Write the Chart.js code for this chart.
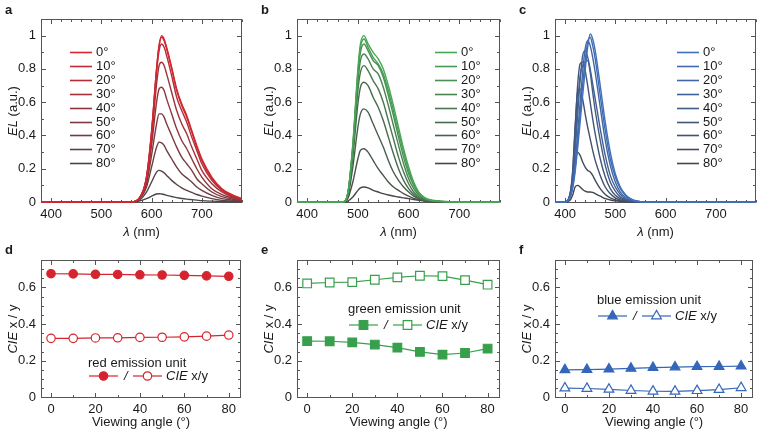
<!DOCTYPE html>
<html><head><meta charset="utf-8">
<script src="https://cdn.jsdelivr.net/npm/chart.js@4.4.1/dist/chart.umd.min.js"></script>
<style>
html,body{margin:0;padding:0;background:#fff;}
#wrap{position:relative;width:760px;height:433px;overflow:hidden;background:#fff;}
canvas{position:absolute;left:0;top:0;}
</style></head><body><div id="wrap">
<canvas id="ca" width="760" height="433"></canvas>
<canvas id="cb" width="760" height="433"></canvas>
<canvas id="cc" width="760" height="433"></canvas>
<canvas id="cd" width="760" height="433"></canvas>
<canvas id="ce" width="760" height="433"></canvas>
<canvas id="cf" width="760" height="433"></canvas>
</div>
<script>
// ---------------- DATA ----------------
const angleLabels = ['0°','10°','20°','30°','40°','50°','60°','70°','80°'];
const spectrumTicksX = [400,500,600,700];
const spectrumTicksY = [0,0.2,0.4,0.6,0.8,1];
const cieTicksX = [0,20,40,60,80];
const cieTicksY = [0,0.2,0.4,0.6];

// red emission unit: EL spectra, one row per viewing angle (0°..80°)
const redWavelength = [380,560,575,590,600,610,615,620,625,630,640,650,660,670,680,690,700,720,740,760,780];
const redSpectra = [
  [0,0,0.02,0.15,0.42,0.80,0.94,1.00,0.98,0.93,0.81,0.68,0.59,0.52,0.43,0.34,0.26,0.15,0.08,0.045,0.02],
  [0,0,0.02,0.15,0.42,0.80,0.94,0.99,0.97,0.92,0.80,0.67,0.58,0.51,0.42,0.33,0.25,0.14,0.075,0.04,0.02],
  [0,0,0.02,0.15,0.41,0.78,0.91,0.95,0.93,0.88,0.76,0.63,0.55,0.48,0.39,0.31,0.23,0.13,0.07,0.035,0.018],
  [0,0,0.02,0.14,0.38,0.71,0.82,0.84,0.82,0.77,0.66,0.55,0.47,0.41,0.33,0.26,0.19,0.11,0.06,0.03,0.015],
  [0,0,0.02,0.13,0.34,0.60,0.68,0.69,0.67,0.62,0.53,0.44,0.37,0.32,0.26,0.20,0.15,0.08,0.045,0.025,0.012],
  [0,0,0.02,0.11,0.28,0.47,0.53,0.53,0.51,0.47,0.40,0.33,0.27,0.23,0.19,0.14,0.11,0.06,0.032,0.018,0.01],
  [0,0,0.015,0.09,0.21,0.33,0.36,0.355,0.34,0.31,0.26,0.21,0.17,0.145,0.12,0.09,0.07,0.04,0.02,0.012,0.006],
  [0,0,0.01,0.06,0.12,0.18,0.19,0.185,0.175,0.16,0.13,0.105,0.085,0.07,0.058,0.045,0.035,0.02,0.01,0.006,0.003],
  [0,0,0.005,0.02,0.035,0.048,0.05,0.048,0.045,0.04,0.033,0.026,0.021,0.017,0.014,0.011,0.008,0.005,0.003,0.002,0.001]
];

// green emission unit
const greenWavelength = [380,470,480,490,500,505,512,520,530,540,550,560,570,580,590,600,610,620,630,640,660,700,780];
const greenSpectra = [
  [0,0,0.05,0.35,0.80,0.95,1.00,0.95,0.90,0.86,0.80,0.70,0.58,0.45,0.32,0.21,0.12,0.06,0.03,0.015,0.005,0,0],
  [0,0,0.05,0.34,0.78,0.93,0.98,0.93,0.87,0.83,0.77,0.67,0.55,0.42,0.30,0.19,0.11,0.055,0.028,0.013,0.005,0,0],
  [0,0,0.05,0.33,0.76,0.90,0.95,0.91,0.85,0.82,0.75,0.64,0.52,0.39,0.27,0.17,0.10,0.05,0.025,0.012,0.004,0,0],
  [0,0,0.05,0.32,0.72,0.85,0.89,0.86,0.80,0.77,0.69,0.58,0.46,0.34,0.23,0.14,0.08,0.04,0.02,0.01,0.004,0,0],
  [0,0,0.045,0.30,0.67,0.78,0.82,0.79,0.73,0.68,0.60,0.49,0.38,0.27,0.18,0.11,0.06,0.03,0.016,0.008,0.003,0,0],
  [0,0,0.04,0.27,0.59,0.69,0.72,0.70,0.63,0.57,0.49,0.39,0.29,0.20,0.13,0.08,0.045,0.024,0.012,0.006,0.002,0,0],
  [0,0,0.03,0.21,0.45,0.53,0.56,0.54,0.47,0.40,0.33,0.25,0.18,0.13,0.09,0.06,0.035,0.02,0.01,0.005,0.002,0,0],
  [0,0,0.02,0.12,0.26,0.31,0.32,0.30,0.25,0.20,0.16,0.12,0.09,0.07,0.05,0.035,0.022,0.014,0.008,0.004,0.002,0,0],
  [0,0,0.005,0.03,0.07,0.085,0.09,0.085,0.07,0.06,0.05,0.042,0.036,0.03,0.025,0.02,0.015,0.01,0.006,0.003,0.001,0,0]
];

// blue emission unit
const blueWavelength = [380,400,410,415,420,425,430,435,440,445,450,455,460,470,480,490,500,510,520,530,540,560,780];
const blueSpectra = [
  [0,0,0.03,0.08,0.18,0.32,0.48,0.64,0.79,0.93,1.01,0.98,0.91,0.70,0.48,0.30,0.17,0.09,0.045,0.02,0.008,0,0],
  [0,0,0.03,0.09,0.20,0.36,0.53,0.70,0.85,0.96,0.99,0.94,0.86,0.64,0.43,0.26,0.15,0.08,0.04,0.017,0.007,0,0],
  [0,0,0.035,0.10,0.23,0.41,0.60,0.78,0.92,0.97,0.94,0.87,0.78,0.57,0.37,0.22,0.12,0.06,0.03,0.013,0.005,0,0],
  [0,0,0.04,0.12,0.30,0.52,0.73,0.88,0.91,0.87,0.80,0.71,0.62,0.44,0.28,0.16,0.09,0.045,0.02,0.01,0.004,0,0],
  [0,0,0.045,0.14,0.35,0.58,0.76,0.82,0.84,0.85,0.78,0.66,0.55,0.37,0.22,0.12,0.065,0.03,0.015,0.007,0.003,0,0],
  [0,0,0.05,0.17,0.43,0.70,0.83,0.84,0.79,0.70,0.60,0.50,0.41,0.26,0.15,0.08,0.04,0.02,0.01,0.005,0.002,0,0],
  [0,0,0.05,0.18,0.45,0.66,0.68,0.62,0.53,0.45,0.38,0.31,0.25,0.16,0.09,0.05,0.025,0.012,0.006,0.003,0.001,0,0],
  [0,0,0.03,0.10,0.24,0.30,0.28,0.24,0.21,0.19,0.18,0.16,0.13,0.08,0.045,0.025,0.013,0.007,0.003,0.001,0,0,0],
  [0,0,0.01,0.04,0.09,0.10,0.09,0.075,0.065,0.06,0.06,0.058,0.05,0.035,0.02,0.012,0.007,0.004,0.002,0.001,0,0,0]
];

// CIE coordinates vs viewing angle
const viewingAngles = [0,10,20,30,40,50,60,70,80];
const redCIEx   = [0.675,0.674,0.672,0.671,0.669,0.668,0.666,0.663,0.661];
const redCIEy   = [0.322,0.322,0.324,0.325,0.327,0.328,0.330,0.334,0.340];
const greenCIEx = [0.307,0.306,0.300,0.288,0.271,0.248,0.233,0.242,0.266];
const greenCIEy = [0.622,0.627,0.629,0.642,0.655,0.664,0.662,0.640,0.615];
const blueCIEx  = [0.150,0.151,0.154,0.158,0.162,0.165,0.167,0.168,0.170];
const blueCIEy  = [0.050,0.048,0.043,0.037,0.033,0.032,0.036,0.042,0.052];

// ---------------- STYLE / HELPERS ----------------
const FONT = '"Liberation Sans", Arial, Helvetica, sans-serif';
const FS = 13;
const TXT = '#1a1a1a';
const AX = '#555';
const YW = 30, XH = 22;

function mix(c1, c2, t) {
  return 'rgb(' + c1.map((v, i) => Math.round(v + (c2[i] - v) * t)).join(',') + ')';
}
function drawRuns(ctx, runs, x, y, align) {
  ctx.textBaseline = 'middle';
  ctx.textAlign = 'left';
  let w = 0;
  runs.forEach(r => { ctx.font = (r.b ? 'bold ' : '') + (r.i ? 'italic ' : '') + (r.s || FS) + 'px ' + FONT; r.w = ctx.measureText(r.t).width; w += r.w; });
  let cx = align === 'center' ? x - w / 2 : (align === 'right' ? x - w : x);
  runs.forEach(r => { ctx.font = (r.b ? 'bold ' : '') + (r.i ? 'italic ' : '') + (r.s || FS) + 'px ' + FONT; ctx.fillStyle = TXT; ctx.fillText(r.t, cx, y); cx += r.w; });
  return w;
}
function marker(ctx, style, x, y, color, filled) {
  ctx.save();
  ctx.lineWidth = 1.2; ctx.strokeStyle = color; ctx.fillStyle = filled ? color : '#fff';
  ctx.beginPath();
  if (style === 'circle') ctx.arc(x, y, 4.2, 0, Math.PI * 2);
  else if (style === 'rect') ctx.rect(x - 4.3, y - 4.3, 8.6, 8.6);
  else { const r = 5.6; for (let k = 0; k < 3; k++) { const a = k * 2 * Math.PI / 3; const px = x + Math.sin(a) * r, py = y - Math.cos(a) * r; k ? ctx.lineTo(px, py) : ctx.moveTo(px, py); } ctx.closePath(); }
  ctx.fill(); ctx.stroke();
  ctx.restore();
}

function decor(cfg) {
  return {
    id: 'decor',
    beforeDatasetsDraw(chart) {
      const ctx = chart.ctx, a = chart.chartArea, xs = chart.scales.x, ys = chart.scales.y;
      ctx.save();
      ctx.strokeStyle = AX; ctx.lineWidth = 1;
      const L = Math.round(a.left) + 0.5, R = Math.round(a.right) - 0.5, T = Math.round(a.top) + 0.5, B = Math.round(a.bottom) - 0.5;
      ctx.strokeRect(L, T, R - L, B - T);
      ctx.beginPath();
      const xt = (v, len) => { const p = Math.round(xs.getPixelForValue(v)) + 0.5; ctx.moveTo(p, B); ctx.lineTo(p, B - len); ctx.moveTo(p, T); ctx.lineTo(p, T + len); };
      const yt = (v, len) => { const p = Math.round(ys.getPixelForValue(v)) + 0.5; ctx.moveTo(L, p); ctx.lineTo(L + len, p); ctx.moveTo(R, p); ctx.lineTo(R - len, p); };
      for (let v = Math.ceil(xs.min / cfg.xMinor) * cfg.xMinor; v <= xs.max + 1e-9; v += cfg.xMinor) xt(v, cfg.xMajor.some(m => Math.abs(m - v) < 1e-6) ? 4.5 : 2.5);
      for (let k = Math.ceil(ys.min / cfg.yMinor - 1e-9); k * cfg.yMinor <= ys.max + 1e-9; k++) { const v = k * cfg.yMinor; yt(v, cfg.yMajor.some(m => Math.abs(m - v) < 1e-6) ? 4.5 : 2.5); }
      ctx.stroke();
      ctx.restore();
    },
    afterDraw(chart) {
      const ctx = chart.ctx, a = chart.chartArea;
      ctx.save();
      drawRuns(ctx, [{ t: cfg.letter, b: true, s: 13 }], cfg.letterX, cfg.letterY, 'left');
      drawRuns(ctx, cfg.xTitle, (a.left + a.right) / 2, cfg.xTitleY, 'center');
      ctx.save();
      ctx.translate(cfg.yTitleX, (a.top + a.bottom) / 2);
      ctx.rotate(-Math.PI / 2);
      drawRuns(ctx, cfg.yTitle, 0, 0, 'center');
      ctx.restore();
      if (cfg.legend) cfg.legend(ctx, chart);
      ctx.restore();
    }
  };
}

function baseOptions(box, xr, yr, xTicks, yTicks, xPad) {
  return {
    responsive: false, animation: false, devicePixelRatio: 1, events: [],
    layout: { padding: { left: box.l - YW, top: box.t, right: 760 - box.r, bottom: 433 - box.b - XH } },
    plugins: { legend: { display: false }, tooltip: { enabled: false } },
    scales: {
      x: {
        type: 'linear', min: xr[0], max: xr[1],
        grid: { display: false, drawTicks: false }, border: { display: false },
        afterFit(s) { s.height = XH; },
        afterBuildTicks(s) { s.ticks = xTicks.map(v => ({ value: v })); },
        ticks: { padding: xPad, color: TXT, font: { family: FONT, size: FS }, maxRotation: 0, autoSkip: false, callback: v => String(+v.toFixed(2)) }
      },
      y: {
        type: 'linear', min: yr[0], max: yr[1],
        grid: { display: false, drawTicks: false }, border: { display: false },
        afterFit(s) { s.width = YW; },
        afterBuildTicks(s) { s.ticks = yTicks.map(v => ({ value: v })); },
        ticks: { padding: 5, color: TXT, font: { family: FONT, size: FS }, autoSkip: false, callback: v => String(+v.toFixed(2)) }
      }
    }
  };
}

function spectrumChart(id, box, wl, spectra, c0, c1, legX, letter, letterX) {
  const datasets = spectra.map((vals, i) => ({
    label: angleLabels[i],
    data: wl.map((w, j) => ({ x: w, y: vals[j] })),
    borderColor: mix(c0, c1, i / 8),
    borderWidth: 1.4, pointRadius: 0, fill: false, cubicInterpolationMode: 'monotone'
  }));
  const opts = baseOptions(box, [380, 780], [-0.006, 1.1], spectrumTicksX, spectrumTicksY, 4);
  const cfg = {
    letter, letterX, letterY: 10, xMajor: spectrumTicksX, xMinor: 20, yMajor: spectrumTicksY, yMinor: 0.1,
    xTitle: [{ t: 'λ', i: true }, { t: ' (nm)' }], xTitleY: 232,
    yTitle: [{ t: 'EL', i: true }, { t: ' (a.u.)' }], yTitleX: letterX + 8,
    legend(ctx, chart) {
      chart.data.datasets.forEach((d, i) => {
        const y = Math.round(52 + i * 13.9) + 0.5;
        ctx.strokeStyle = d.borderColor; ctx.lineWidth = 1.6;
        ctx.beginPath(); ctx.moveTo(legX, y); ctx.lineTo(legX + 22, y); ctx.stroke();
        drawRuns(ctx, [{ t: d.label }], legX + 26, y, 'left');
      });
    }
  };
  return new Chart(document.getElementById(id), { type: 'line', data: { datasets }, options: opts, plugins: [decor(cfg)] });
}

function cieChart(id, box, xs, ys, color, style, title, leg, letter, letterX) {
  const radius = style === 'circle' ? 4.2 : (style === 'rect' ? 6.1 : 5.6);
  const mk = (vals, filled) => ({
    data: viewingAngles.map((a, j) => ({ x: a, y: vals[j] })),
    borderColor: color, borderWidth: 1.2, backgroundColor: filled ? color : '#fff',
    pointBackgroundColor: filled ? color : '#fff', pointBorderColor: color, pointBorderWidth: 1.2,
    pointStyle: style, pointRadius: radius, tension: 0, fill: false
  });
  const opts = baseOptions(box, [-4.5, 85.5], [-0.004, 0.75], cieTicksX, cieTicksY, 4);
  const cfg = {
    letter, letterX, letterY: 250, xMajor: cieTicksX, xMinor: 10, yMajor: cieTicksY, yMinor: 0.05,
    xTitle: [{ t: 'Viewing angle (°)' }], xTitleY: 422,
    yTitle: [{ t: 'CIE', i: true }, { t: ' x / y' }], yTitleX: letterX + 8,
    legend(ctx) {
      drawRuns(ctx, [{ t: title }], leg.x0 - 1, leg.ty, 'left');
      const y = leg.ry;
      let x = leg.x0;
      ctx.strokeStyle = color; ctx.lineWidth = 1.2;
      ctx.beginPath(); ctx.moveTo(x, y); ctx.lineTo(x + 29, y); ctx.stroke();
      marker(ctx, style, x + 14.5, y, color, true);
      x += 35;
      drawRuns(ctx, [{ t: '/', i: true }], x, y, 'left');
      x += 9;
      ctx.strokeStyle = color; ctx.lineWidth = 1.2;
      ctx.beginPath(); ctx.moveTo(x, y); ctx.lineTo(x + 29, y); ctx.stroke();
      marker(ctx, style, x + 14.5, y, color, false);
      x += 33;
      drawRuns(ctx, [{ t: 'CIE', i: true }, { t: ' x/y' }], x, y, 'left');
    }
  };
  return new Chart(document.getElementById(id), { type: 'line', data: { datasets: [mk(xs, true), mk(ys, false)] }, options: opts, plugins: [decor(cfg)] });
}

const GREY = [72, 70, 72];
spectrumChart('ca', { l: 41, r: 242, t: 19, b: 203 }, redWavelength, redSpectra, [214, 38, 48], GREY, 70, 'a', 5);
spectrumChart('cb', { l: 297, r: 500, t: 19, b: 203 }, greenWavelength, greenSpectra, [72, 168, 86], GREY, 435, 'b', 261);
spectrumChart('cc', { l: 555, r: 756, t: 19, b: 203 }, blueWavelength, blueSpectra, [64, 112, 190], [66, 70, 80], 677, 'c', 519);

cieChart('cd', { l: 41, r: 241, t: 260, b: 398 }, redCIEx, redCIEy, 'rgb(214,36,46)', 'circle', 'red emission unit', { ty: 363, ry: 376, x0: 89 }, 'd', 5);
cieChart('ce', { l: 297, r: 500, t: 260, b: 398 }, greenCIEx, greenCIEy, 'rgb(56,160,76)', 'rect', 'green emission unit', { ty: 309, ry: 325, x0: 349 }, 'e', 261);
cieChart('cf', { l: 555, r: 756, t: 260, b: 398 }, blueCIEx, blueCIEy, 'rgb(52,102,186)', 'triangle', 'blue emission unit', { ty: 300, ry: 316, x0: 598 }, 'f', 519);
</script>
</body></html>
